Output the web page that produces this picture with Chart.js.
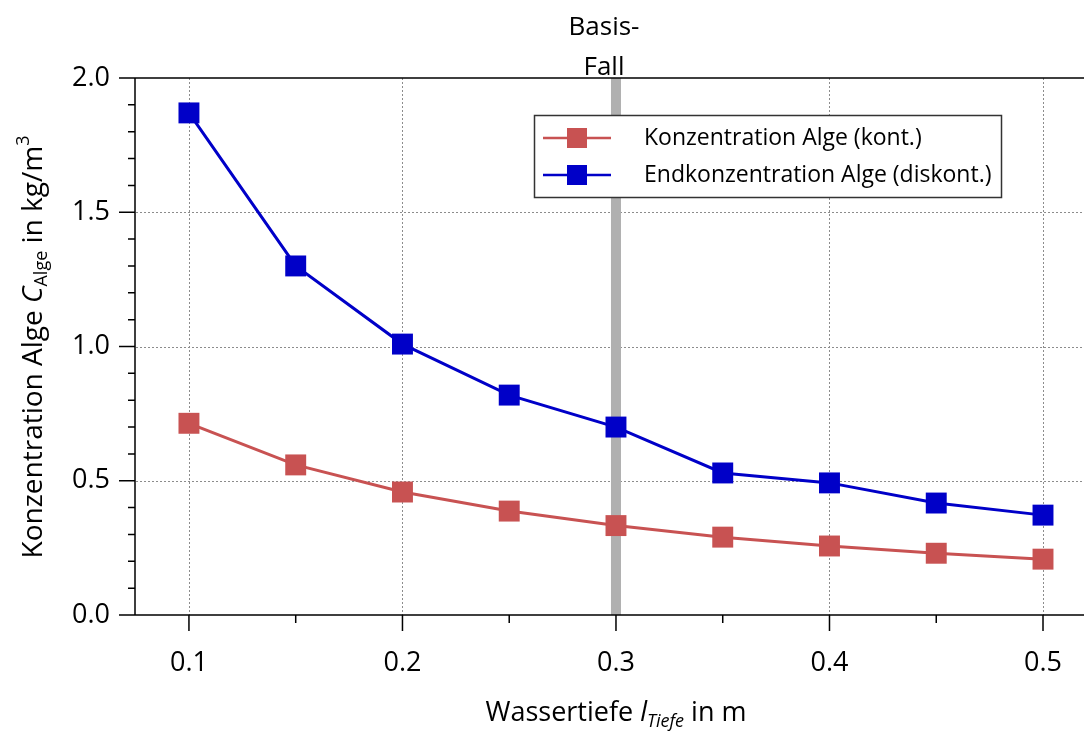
<!DOCTYPE html>
<html>
<head>
<meta charset="utf-8">
<script src="https://cdn.jsdelivr.net/npm/chart.js@4.4.1/dist/chart.umd.min.js"></script>
<style>
  html, body { margin: 0; padding: 0; background: #fff; overflow: hidden; }
  canvas { display: block; }
</style>
</head>
<body>
<canvas id="chartAlge" width="1084" height="736"></canvas>
<script>
// Wassertiefe in m
const depths = [0.1, 0.15, 0.2, 0.25, 0.3, 0.35, 0.4, 0.45, 0.5];
// Konzentration Alge (kont.) in kg/m3
const konzKont = [0.714, 0.559, 0.458, 0.387, 0.333, 0.290, 0.257, 0.230, 0.208];
// Endkonzentration Alge (diskont.) in kg/m3
const endKonzDiskont = [1.870, 1.300, 1.009, 0.819, 0.700, 0.529, 0.492, 0.417, 0.372];

const xTicks = [0.1, 0.2, 0.3, 0.4, 0.5];
const xMinorTicks = [0.15, 0.25, 0.35, 0.45];
const yTicks = [0.0, 0.5, 1.0, 1.5, 2.0];
const yMinorTicks = [0.1, 0.2, 0.3, 0.4, 0.6, 0.7, 0.8, 0.9, 1.1, 1.2, 1.3, 1.4, 1.6, 1.7, 1.8, 1.9];
const basisFall = 0.3;

const seriesNames = ["Konzentration Alge (kont.)", "Endkonzentration Alge (diskont.)"];
const red = "#c85252";
const blue = "#0000c8";

const FONT = "'Open Sans', 'Noto Sans', sans-serif";

function toPoints(ys) {
    return depths.map((d, i) => ({ x: d, y: ys[i] }));
}

// mixed text runs (sub/superscript, italic) drawn one after another
function drawRuns(ctx, runs, x, y, align) {
    let total = 0;
    runs.forEach(r => { ctx.font = r.font; total += ctx.measureText(r.text).width; });
    let cx = align === "center" ? x - total / 2 : x;
    runs.forEach(r => {
        ctx.font = r.font;
        ctx.fillText(r.text, cx, y + (r.dy || 0));
        cx += ctx.measureText(r.text).width;
    });
}

const axesPlugin = {
    id: "axesPlugin",
    beforeDatasetsDraw(chart) {
        const { ctx, chartArea: a, scales: { x, y } } = chart;
        ctx.save();

        // dotted grid
        ctx.strokeStyle = "#8c8c8c";
        ctx.lineWidth = 1;
        ctx.setLineDash([2, 2]);
        xTicks.forEach(v => {
            const px = Math.round(x.getPixelForValue(v)) + 0.5;
            ctx.beginPath(); ctx.moveTo(px, a.top); ctx.lineTo(px, a.bottom); ctx.stroke();
        });
        yTicks.slice(1, -1).forEach(v => {
            const py = Math.round(y.getPixelForValue(v)) + 0.5;
            ctx.beginPath(); ctx.moveTo(a.left, py); ctx.lineTo(a.right, py); ctx.stroke();
        });
        ctx.setLineDash([]);

        // Basis-Fall marker line
        const bx = x.getPixelForValue(basisFall);
        ctx.fillStyle = "#b0b0b0";
        ctx.fillRect(bx - 5, a.top, 10, a.bottom - a.top);

        // axis lines
        ctx.strokeStyle = "#000";
        ctx.lineWidth = 1.5;
        ctx.beginPath();
        ctx.moveTo(a.left - 1, a.top); ctx.lineTo(a.right, a.top);
        ctx.moveTo(a.left - 1, a.top); ctx.lineTo(a.left - 1, a.bottom);
        ctx.moveTo(a.left - 1, a.bottom); ctx.lineTo(a.right, a.bottom);
        ctx.stroke();

        // ticks
        ctx.beginPath();
        xTicks.forEach(v => {
            const px = x.getPixelForValue(v);
            ctx.moveTo(px, a.bottom); ctx.lineTo(px, a.bottom + 16);
        });
        xMinorTicks.forEach(v => {
            const px = x.getPixelForValue(v);
            ctx.moveTo(px, a.bottom); ctx.lineTo(px, a.bottom + 8);
        });
        yTicks.forEach(v => {
            const py = y.getPixelForValue(v);
            ctx.moveTo(a.left - 1, py); ctx.lineTo(a.left - 17, py);
        });
        yMinorTicks.forEach(v => {
            const py = y.getPixelForValue(v);
            ctx.moveTo(a.left - 1, py); ctx.lineTo(a.left - 8, py);
        });
        ctx.stroke();

        // tick labels
        ctx.fillStyle = "#000";
        ctx.font = "27px " + FONT;
        ctx.textBaseline = "middle";
        ctx.textAlign = "center";
        xTicks.forEach(v => ctx.fillText(v.toFixed(1), x.getPixelForValue(v), a.bottom + 48));
        ctx.textAlign = "right";
        yTicks.forEach(v => ctx.fillText(v.toFixed(1), a.left - 26, y.getPixelForValue(v)));

        // Basis-Fall label
        ctx.textAlign = "center";
        ctx.textBaseline = "alphabetic";
        ctx.font = "26px " + FONT;
        ctx.fillText("Basis-", bx - 12, 35);
        ctx.fillText("Fall", bx - 12, 75);

        // axis titles
        ctx.textAlign = "left";
        drawRuns(ctx, [
            { text: "Wassertiefe ", font: "27px " + FONT },
            { text: "l", font: "italic 27px " + FONT },
            { text: "Tiefe", font: "italic 18px " + FONT, dy: 6 },
            { text: " in m", font: "27px " + FONT }
        ], x.getPixelForValue(basisFall), 721, "center");

        ctx.translate(42, 347);
        ctx.rotate(-Math.PI / 2);
        drawRuns(ctx, [
            { text: "Konzentration Alge ", font: "28px " + FONT },
            { text: "C", font: "italic 28px " + FONT },
            { text: "Alge", font: "18px " + FONT, dy: 5 },
            { text: " in kg/m", font: "28px " + FONT },
            { text: "3", font: "18px " + FONT, dy: -13 }
        ], 0, 0, "center");

        ctx.restore();
    },
    afterDatasetsDraw(chart) {
        const { ctx } = chart;
        ctx.save();
        // legend box
        ctx.fillStyle = "#fff";
        ctx.fillRect(534, 115, 467, 82);
        ctx.strokeStyle = "#333";
        ctx.lineWidth = 1.5;
        ctx.strokeRect(534.5, 115.5, 467, 82);

        const colors = [red, blue];
        const rows = [138, 175];
        ctx.font = "23px " + FONT;
        ctx.textBaseline = "middle";
        ctx.textAlign = "left";
        rows.forEach((ry, i) => {
            ctx.strokeStyle = colors[i];
            ctx.lineWidth = 2.5;
            ctx.beginPath(); ctx.moveTo(543, ry); ctx.lineTo(611, ry); ctx.stroke();
            ctx.fillStyle = colors[i];
            ctx.fillRect(567, ry - 10, 20, 20);
            ctx.fillStyle = "#000";
            ctx.fillText(seriesNames[i], 644, ry);
        });
        ctx.restore();
    }
};

new Chart(document.getElementById("chartAlge"), {
    type: "scatter",
    data: {
        datasets: [
            {
                label: seriesNames[0],
                data: toPoints(konzKont),
                showLine: true,
                borderColor: red,
                backgroundColor: red,
                borderWidth: 3,
                pointStyle: "rect",
                pointRadius: 14.8,
                pointBorderWidth: 0,
                pointBackgroundColor: red
            },
            {
                label: seriesNames[1],
                data: toPoints(endKonzDiskont),
                showLine: true,
                borderColor: blue,
                backgroundColor: blue,
                borderWidth: 3,
                pointStyle: "rect",
                pointRadius: 14.8,
                pointBorderWidth: 0,
                pointBackgroundColor: blue
            }
        ]
    },
    options: {
        responsive: false,
        animation: false,
        layout: {
            autoPadding: false,
            padding: { left: 136, top: 78, right: 0, bottom: 121 }
        },
        plugins: {
            legend: { display: false },
            tooltip: { enabled: false }
        },
        scales: {
            x: { type: "linear", min: 0.0752, max: 0.5192, display: false },
            y: { min: 0, max: 2, display: false }
        }
    },
    plugins: [axesPlugin]
});
</script>
</body>
</html>
